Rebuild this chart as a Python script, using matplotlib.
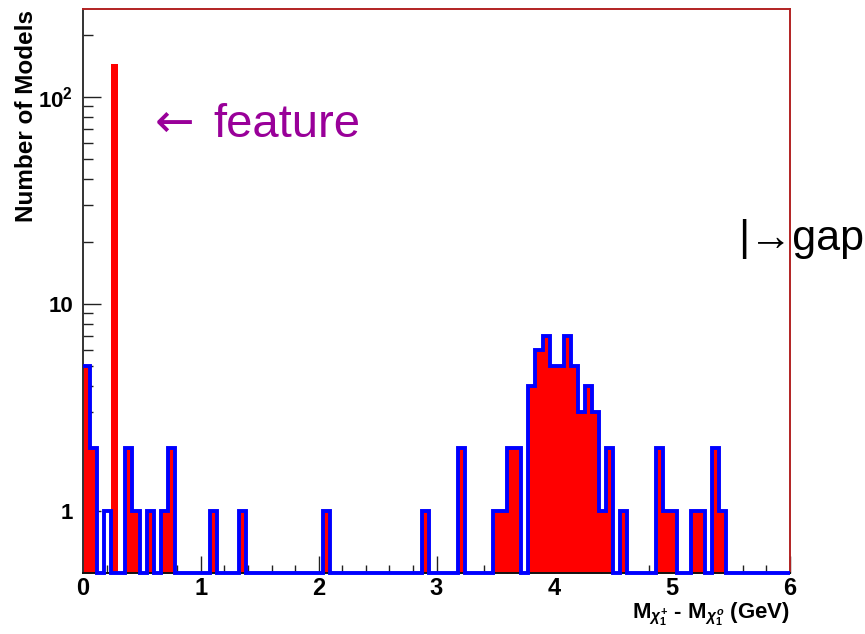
import numpy as np
import matplotlib.pyplot as plt
from matplotlib.ticker import FixedLocator, NullFormatter

plt.rcParams['font.family'] = ['Liberation Sans', 'DejaVu Sans']
plt.rcParams['mathtext.fontset'] = 'custom'
plt.rcParams['mathtext.rm'] = 'Liberation Sans:bold'
plt.rcParams['mathtext.it'] = 'Liberation Sans:bold:italic'
plt.rcParams['mathtext.bf'] = 'Liberation Sans:bold'

# mass splitting histogram, 100 bins of 0.06 GeV from 0 to 6
edges = np.linspace(0, 6, 101)

# outlined histogram (blue)
blue_counts = [
    5, 2, 0, 1, 0, 0, 2, 1, 0, 1,
    0, 1, 2, 0, 0, 0, 0, 0, 1, 0,
    0, 0, 1, 0, 0, 0, 0, 0, 0, 0,
    0, 0, 0, 0, 1, 0, 0, 0, 0, 0,
    0, 0, 0, 0, 0, 0, 0, 0, 1, 0,
    0, 0, 0, 2, 0, 0, 0, 0, 1, 1,
    2, 2, 0, 4, 6, 7, 5, 5, 7, 5,
    3, 4, 3, 1, 2, 0, 1, 0, 0, 0,
    0, 2, 1, 1, 0, 0, 1, 1, 0, 2,
    1, 0, 0, 0, 0, 0, 0, 0, 0, 0,
]

# filled histogram (red): same models plus the spike near 0.27 GeV
red_counts = [
    5, 2, 0, 0, 144, 0, 2, 1, 0, 1,
    0, 1, 2, 0, 0, 0, 0, 0, 1, 0,
    0, 0, 1, 0, 0, 0, 0, 0, 0, 0,
    0, 0, 0, 0, 1, 0, 0, 0, 0, 0,
    0, 0, 0, 0, 0, 0, 0, 0, 1, 0,
    0, 0, 0, 2, 0, 0, 0, 0, 1, 1,
    2, 2, 0, 4, 6, 7, 5, 5, 7, 5,
    3, 4, 3, 1, 2, 0, 1, 0, 0, 0,
    0, 2, 1, 1, 0, 0, 1, 1, 0, 2,
    1, 0, 0, 0, 0, 0, 0, 0, 0, 0,
]

y_ticks = [1, 10, 100]
y_tick_labels = ["1", "10", r"10$^{2}$"]
x_ticks = [0, 1, 2, 3, 4, 5, 6]

ymin, ymax = 0.5, 266

fig = plt.figure(figsize=(8.65, 6.34), dpi=100)
ax = fig.add_axes([83 / 865, 1 - 573 / 634, (790 - 83) / 865, (573 - 9) / 634])

red = np.array(red_counts, dtype=float)
blue = np.array(blue_counts, dtype=float)

ax.stairs(np.where(red > 0, red, ymin), edges, baseline=ymin, fill=True,
          color='#ff0000', linewidth=0, zorder=2)
ax.stairs(np.where(blue > 0, blue, ymin), edges, baseline=None,
          color='#0000ff', linewidth=2.8, zorder=3, clip_on=False)

ax.set_yscale('log')
ax.set_xlim(0, 6)
ax.set_ylim(ymin, ymax)

ax.yaxis.set_major_locator(FixedLocator(y_ticks))
ax.set_yticklabels(y_tick_labels)
minor_y = [m * d for d in (0.1, 1, 10, 100) for m in range(2, 10)]
ax.yaxis.set_minor_locator(FixedLocator([v for v in minor_y if ymin < v < ymax]))
ax.yaxis.set_minor_formatter(NullFormatter())

ax.xaxis.set_major_locator(FixedLocator(x_ticks))
ax.xaxis.set_minor_locator(FixedLocator(np.arange(0.2, 6, 0.2)))
ax.set_xticklabels([str(v) for v in x_ticks])

ax.tick_params(axis='both', which='both', direction='in', top=False, right=False,
               color='#222222', width=1)
ax.tick_params(axis='y', which='major', length=13, pad=7, labelsize=16)
ax.tick_params(axis='y', which='minor', length=7)
ax.tick_params(axis='x', which='major', length=12, pad=3, labelsize=17)
ax.tick_params(axis='x', which='minor', length=6)
for lab in ax.get_xticklabels() + ax.get_yticklabels():
    lab.set_fontweight('bold')

ax.spines['left'].set_color('#333333')
ax.spines['bottom'].set_color('#111111')
ax.spines['top'].set_color('#b22222')
ax.spines['right'].set_color('#b22222')
for s in ax.spines.values():
    s.set_linewidth(1.4)

fig.text(27 / 865, 1 - 10 / 634, "Number of Models", rotation=90,
         ha='center', va='top', fontsize=17.5, fontweight='bold')
fig.text(790 / 865, 1 - 618 / 634,
         r"M$_{\chi^{+}_{1}}$ - M$_{\chi^{o}_{1}}$ (GeV)",
         ha='right', va='baseline', fontsize=16, fontweight='bold')

fig.text(155 / 865, 1 - 137 / 634, "\u2190", color='#990099',
         fontsize=34, ha='left', va='baseline', family='DejaVu Sans')
fig.text(213 / 865, 1 - 137 / 634, "feature", color='#990099',
         fontsize=34, ha='left', va='baseline')
fig.text(738 / 865, 1 - 250 / 634, "|\u2192gap", color='black',
         fontsize=31, ha='left', va='baseline')

fig.savefig('out.png', dpi=100)
